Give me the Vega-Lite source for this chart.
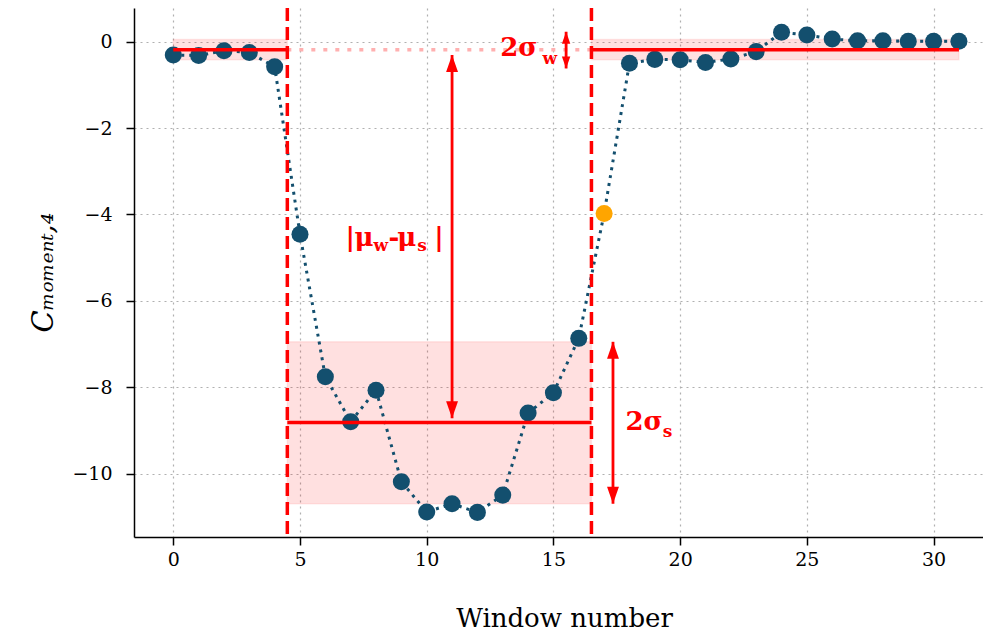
{
  "$schema": "https://vega.github.io/schema/vega-lite/v6.json",
  "width": 849,
  "height": 529,
  "autosize": "none",
  "padding": {"left": 134, "top": 8, "right": 0, "bottom": 98},
  "background": "white",
  "config": {"view": {"stroke": null}, "font": "DejaVu Serif"},
  "datasets": {
    "pts": [
      {"w": 0, "c": -0.31, "kind": "base"}, {"w": 1, "c": -0.32, "kind": "base"},
      {"w": 2, "c": -0.21, "kind": "base"}, {"w": 3, "c": -0.25, "kind": "base"},
      {"w": 4, "c": -0.58, "kind": "base"}, {"w": 5, "c": -4.46, "kind": "base"},
      {"w": 6, "c": -7.76, "kind": "base"}, {"w": 7, "c": -8.80, "kind": "base"},
      {"w": 8, "c": -8.07, "kind": "base"}, {"w": 9, "c": -10.19, "kind": "base"},
      {"w": 10, "c": -10.89, "kind": "base"}, {"w": 11, "c": -10.70, "kind": "base"},
      {"w": 12, "c": -10.90, "kind": "base"}, {"w": 13, "c": -10.50, "kind": "base"},
      {"w": 14, "c": -8.60, "kind": "base"}, {"w": 15, "c": -8.13, "kind": "base"},
      {"w": 16, "c": -6.87, "kind": "base"}, {"w": 17, "c": -3.98, "kind": "flag"},
      {"w": 18, "c": -0.50, "kind": "base"}, {"w": 19, "c": -0.41, "kind": "base"},
      {"w": 20, "c": -0.42, "kind": "base"}, {"w": 21, "c": -0.48, "kind": "base"},
      {"w": 22, "c": -0.40, "kind": "base"}, {"w": 23, "c": -0.23, "kind": "base"},
      {"w": 24, "c": 0.22, "kind": "base"}, {"w": 25, "c": 0.155, "kind": "base"},
      {"w": 26, "c": 0.06, "kind": "base"}, {"w": 27, "c": 0.02, "kind": "base"},
      {"w": 28, "c": 0.02, "kind": "base"}, {"w": 29, "c": 0.01, "kind": "base"},
      {"w": 30, "c": 0.01, "kind": "base"}, {"w": 31, "c": 0.01, "kind": "base"}
    ],
    "bands": [
      {"x0": 0, "x1": 4.5, "lo": -0.42, "hi": 0.05, "m": -0.185},
      {"x0": 16.5, "x1": 31, "lo": -0.42, "hi": 0.05, "m": -0.185},
      {"x0": 4.5, "x1": 16.5, "lo": -10.70, "hi": -6.95, "m": -8.82}
    ],
    "gap": [{"x0": 4.5, "x1": 16.5, "m": -0.185}],
    "splits": [{"x": 4.5}, {"x": 16.5}],
    "arrows": [
      {"x": 11, "top": -0.31, "bot": -8.72, "kind": "big"},
      {"x": 17.35, "top": -6.95, "bot": -10.70, "kind": "big"},
      {"x": 15.5, "top": 0.23, "bot": -0.62, "kind": "small"}
    ],
    "labels": [
      {"t": "|", "x": 6.8, "y": -4.72, "role": "main"},
      {"t": "μ", "x": 7.15, "y": -4.72, "role": "main"},
      {"t": "-", "x": 8.49, "y": -4.72, "role": "main"},
      {"t": "μ", "x": 8.84, "y": -4.72, "role": "main"},
      {"t": "|", "x": 10.3, "y": -4.72, "role": "main"},
      {"t": "2σ", "x": 17.84, "y": -9.0, "role": "main"},
      {"t": "2σ", "x": 12.9, "y": -0.32, "role": "main"},
      {"t": "w", "x": 7.90, "y": -4.85, "role": "sub"},
      {"t": "s", "x": 9.63, "y": -4.85, "role": "sub"},
      {"t": "s", "x": 19.31, "y": -9.16, "role": "sub"},
      {"t": "w", "x": 14.57, "y": -0.52, "role": "sub"}
    ]
  },
  "layer": [
    {
      "data": {"name": "bands"},
      "mark": {"type": "rect", "fill": "red", "fillOpacity": 0.12, "stroke": "red", "strokeOpacity": 0.08, "strokeWidth": 1.5},
      "encoding": {
        "x": {
          "field": "x0", "type": "quantitative",
          "scale": {"domain": [-1.55, 31.95], "nice": false, "zero": false},
          "axis": {
            "values": [0, 5, 10, 15, 20, 25, 30],
            "title": "Window number",
            "titleFontSize": 26, "titleFontWeight": "normal", "titleColor": "black",
            "titleX": 430, "titleY": 89, "titleAlign": "center", "titleBaseline": "alphabetic", "titleAnchor": null,
            "labelFontSize": 19, "labelColor": "black", "labelPadding": 5, "labelFlush": false,
            "tickSize": 8, "tickColor": "black", "tickWidth": 1.5,
            "domainColor": "black", "domainWidth": 1.5,
            "grid": true, "gridColor": "#b0b0b0", "gridDash": [2, 4], "gridWidth": 1.2
          }
        },
        "x2": {"field": "x1"},
        "y": {
          "field": "lo", "type": "quantitative",
          "scale": {"domain": [-11.47, 0.78], "nice": false, "zero": false},
          "axis": {
            "values": [-10, -8, -6, -4, -2, 0],
            "title": "Cₘₒₘₑₙₜ,₄",
            "titleFontSize": 29, "titleFontWeight": "normal", "titleFontStyle": "italic", "titleColor": "black",
            "titleAngle": 270, "titleX": -82, "titleY": 264, "titleAlign": "center", "titleBaseline": "alphabetic", "titleAnchor": null,
            "labelFontSize": 19, "labelColor": "black", "labelPadding": 14,
            "tickSize": 8, "tickColor": "black", "tickWidth": 1.5,
            "domainColor": "black", "domainWidth": 1.5,
            "grid": true, "gridColor": "#b0b0b0", "gridDash": [2, 4], "gridWidth": 1.2
          }
        },
        "y2": {"field": "hi"}
      }
    },
    {
      "data": {"name": "gap"},
      "mark": {"type": "rule", "color": "#ffb0b0", "strokeWidth": 3.5, "strokeDash": [4, 8]},
      "encoding": {
        "x": {"field": "x0", "type": "quantitative"},
        "x2": {"field": "x1"},
        "y": {"field": "m", "type": "quantitative"}
      }
    },
    {
      "data": {"name": "pts"},
      "mark": {"type": "line", "color": "#134f6e", "strokeWidth": 3, "strokeDash": [3, 5]},
      "encoding": {
        "x": {"field": "w", "type": "quantitative"},
        "y": {"field": "c", "type": "quantitative"},
        "order": {"field": "w"}
      }
    },
    {
      "data": {"name": "pts"},
      "mark": {"type": "circle", "size": 290, "opacity": 1},
      "encoding": {
        "x": {"field": "w", "type": "quantitative"},
        "y": {"field": "c", "type": "quantitative"},
        "color": {"field": "kind", "type": "nominal", "scale": {"domain": ["base", "flag"], "range": ["#134f6e", "#ffa500"]}, "legend": null}
      }
    },
    {
      "data": {"name": "bands"},
      "mark": {"type": "rule", "color": "red", "strokeWidth": 3.5},
      "encoding": {
        "x": {"field": "x0", "type": "quantitative"},
        "x2": {"field": "x1"},
        "y": {"field": "m", "type": "quantitative"}
      }
    },
    {
      "data": {"name": "splits"},
      "mark": {"type": "rule", "color": "red", "strokeWidth": 3.5, "strokeDash": [13, 6]},
      "encoding": {
        "x": {"field": "x", "type": "quantitative"}
      }
    },
    {
      "data": {"name": "arrows"},
      "mark": {"type": "rule", "color": "red", "strokeWidth": 2.8},
      "encoding": {
        "x": {"field": "x", "type": "quantitative"},
        "y": {"field": "top", "type": "quantitative"},
        "y2": {"field": "bot"}
      }
    },
    {
      "data": {"name": "arrows"},
      "transform": [{"filter": "datum.kind == 'big'"}],
      "mark": {"type": "point", "shape": "M0,0L0.7,2L-0.7,2Z", "size": 289, "filled": true, "color": "red", "opacity": 1},
      "encoding": {
        "x": {"field": "x", "type": "quantitative"},
        "y": {"field": "top", "type": "quantitative"}
      }
    },
    {
      "data": {"name": "arrows"},
      "transform": [{"filter": "datum.kind == 'big'"}],
      "mark": {"type": "point", "shape": "M0,0L0.7,-2L-0.7,-2Z", "size": 289, "filled": true, "color": "red", "opacity": 1},
      "encoding": {
        "x": {"field": "x", "type": "quantitative"},
        "y": {"field": "bot", "type": "quantitative"}
      }
    },
    {
      "data": {"name": "arrows"},
      "transform": [{"filter": "datum.kind == 'small'"}],
      "mark": {"type": "point", "shape": "M0,0L0.7,2L-0.7,2Z", "size": 144, "filled": true, "color": "red", "opacity": 1},
      "encoding": {
        "x": {"field": "x", "type": "quantitative"},
        "y": {"field": "top", "type": "quantitative"}
      }
    },
    {
      "data": {"name": "arrows"},
      "transform": [{"filter": "datum.kind == 'small'"}],
      "mark": {"type": "point", "shape": "M0,0L0.7,-2L-0.7,-2Z", "size": 144, "filled": true, "color": "red", "opacity": 1},
      "encoding": {
        "x": {"field": "x", "type": "quantitative"},
        "y": {"field": "bot", "type": "quantitative"}
      }
    },
    {
      "data": {"name": "labels"},
      "transform": [{"filter": "datum.role == 'main'"}],
      "mark": {"type": "text", "color": "red", "fontSize": 26, "fontWeight": "bold", "font": "DejaVu Serif", "align": "left", "baseline": "alphabetic"},
      "encoding": {
        "x": {"field": "x", "type": "quantitative"},
        "y": {"field": "y", "type": "quantitative"},
        "text": {"field": "t"}
      }
    },
    {
      "data": {"name": "labels"},
      "transform": [{"filter": "datum.role == 'sub'"}],
      "mark": {"type": "text", "color": "red", "fontSize": 17, "fontWeight": "bold", "font": "DejaVu Serif", "align": "left", "baseline": "alphabetic"},
      "encoding": {
        "x": {"field": "x", "type": "quantitative"},
        "y": {"field": "y", "type": "quantitative"},
        "text": {"field": "t"}
      }
    },
    {
      "mark": {"type": "rule", "color": "black", "strokeWidth": 1.5},
      "encoding": {"y": {"datum": 0.78}}
    }
  ]
}
